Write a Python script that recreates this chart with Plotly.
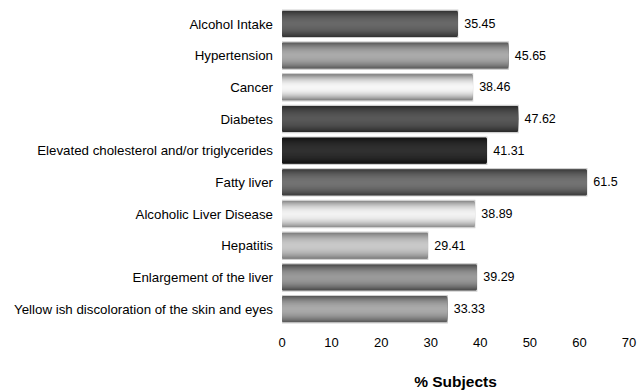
import plotly.graph_objects as go

categories = [
    "Alcohol Intake",
    "Hypertension",
    "Cancer",
    "Diabetes",
    "Elevated cholesterol and/or triglycerides",
    "Fatty liver",
    "Alcoholic Liver Disease",
    "Hepatitis",
    "Enlargement of the liver",
    "Yellow ish discoloration of the skin and eyes",
]
values = [35.45, 45.65, 38.46, 47.62, 41.31, 61.5, 38.89, 29.41, 39.29, 33.33]
value_labels = ["35.45", "45.65", "38.46", "47.62", "41.31", "61.5", "38.89", "29.41", "39.29", "33.33"]
x_ticks = [0, 10, 20, 30, 40, 50, 60, 70]

# gradient styling (edge grey, centre grey) per bar
edge_grey = [0x30, 0x55, 0x77, 0x28, 0x10, 0x38, 0x88, 0x77, 0x44, 0x55]
centre_grey = [0x68, 0xaa, 0xf6, 0x58, 0x30, 0x72, 0xf2, 0xc8, 0x9a, 0xaa]

FONT = "Liberation Sans, Arial, sans-serif"
fig = go.Figure()

n_bands = 14
full_w = 0.86
for k in range(n_bands):
    t = k / (n_bands - 1)
    w = full_w * (1 - t) + 0.04 * t
    cols = []
    for e, c in zip(edge_grey, centre_grey):
        s = 1 - (1 - t) ** 2
        g = int(round(e + (c - e) * s))
        cols.append(f"rgb({g},{g},{g})")
    if k == 0:
        kw = dict(text=value_labels, texttemplate=" %{text}", textposition="outside",
                  textfont=dict(family=FONT, size=12.5, color="#000"),
                  cliponaxis=False,
                  marker_line=dict(color="#cfcfcf", width=1.2))
    else:
        kw = dict(marker_line_width=0)
    fig.add_trace(go.Bar(
        x=values, y=categories, orientation="h", width=w,
        marker_color=cols, hoverinfo="skip" if k else "x+y",
        showlegend=False, **kw))

fig.update_layout(
    width=639, height=390,
    margin=dict(l=282, r=10, t=8, b=65),
    paper_bgcolor="white", plot_bgcolor="white",
    barmode="overlay",
    font=dict(family=FONT, size=12, color="#000"),
    xaxis=dict(range=[0, 70], tickvals=x_ticks, showgrid=False, zeroline=False,
               showline=False, ticks="", ticklabelstandoff=8, automargin=False,
               tickfont=dict(size=13),
               title=dict(text="<b>% Subjects</b>", font=dict(size=15.5), standoff=28)),
    yaxis=dict(categoryorder="array", categoryarray=categories, autorange="reversed",
               showgrid=False, zeroline=False, showline=False, ticks="", automargin=False,
               ticklabelstandoff=8, tickfont=dict(size=13.3)),
)

fig.write_html("out.html")
